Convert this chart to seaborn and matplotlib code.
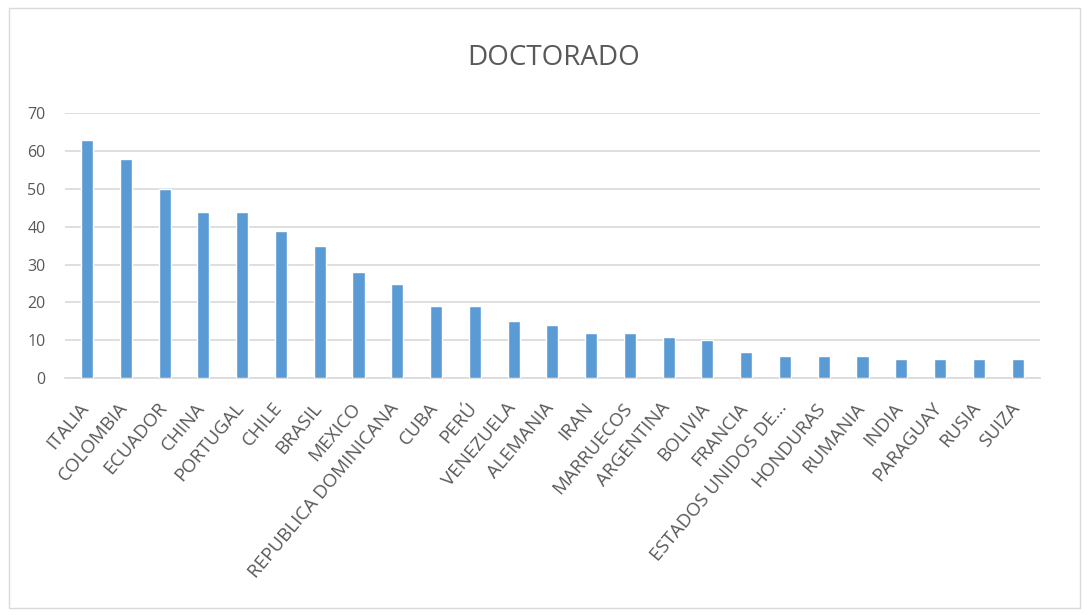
import matplotlib
matplotlib.use("Agg")
import matplotlib.pyplot as plt
import matplotlib.transforms as mtransforms
import seaborn as sns
import pandas as pd
from matplotlib.patches import Rectangle

countries = ["ITALIA", "COLOMBIA", "ECUADOR", "CHINA", "PORTUGAL", "CHILE", "BRASIL",
             "MEXICO", "REPUBLICA DOMINICANA", "CUBA", "PERÚ", "VENEZUELA", "ALEMANIA",
             "IRAN", "MARRUECOS", "ARGENTINA", "BOLIVIA", "FRANCIA", "ESTADOS UNIDOS DE...",
             "HONDURAS", "RUMANIA", "INDIA", "PARAGUAY", "RUSIA", "SUIZA"]
values = [63, 58, 50, 44, 44, 39, 35, 28, 25, 19, 19, 15, 14, 12, 12, 11, 10, 7, 6, 6, 6, 5, 5, 5, 5]
y_ticks = [0, 10, 20, 30, 40, 50, 60, 70]
title = "DOCTORADO"

sns.set_theme(style="white")
plt.rcParams['font.family'] = ['Open Sans', 'DejaVu Sans']

df = pd.DataFrame({"country": countries, "value": values})

fig = plt.figure(figsize=(10.89, 6.15), dpi=100)
ax = fig.add_axes([0.0597, 0.385, 0.895, 0.431])
sns.barplot(data=df, x="country", y="value", color="#5B9BD5", width=0.31,
            saturation=1, ax=ax, zorder=3)
ax.set_ylim(0, 70)
ax.set_xlim(-0.57, len(countries) - 1 + 0.57)
ax.set_yticks(y_ticks)
ax.yaxis.grid(True, color="#D9D9D9", linewidth=1.2, zorder=0)
ax.set_axisbelow(True)
for s in ["top", "right", "left"]:
    ax.spines[s].set_visible(False)
ax.spines["bottom"].set_color("#D9D9D9")
ax.spines["bottom"].set_linewidth(1.2)
ax.set_xlabel("")
ax.set_ylabel("")
ax.tick_params(axis="y", length=0, pad=14, labelsize=11.5, labelcolor="#595959")
ax.tick_params(axis="x", length=0, pad=15, labelsize=13.5, labelcolor="#595959")
offset = mtransforms.ScaledTranslation(-6 / 72, 0, fig.dpi_scale_trans)
for lab in ax.get_xticklabels():
    lab.set_rotation(50)
    lab.set_ha("right")
    lab.set_rotation_mode("anchor")
    lab.set_transform(lab.get_transform() + offset)

fig.text(0.508, 0.905, title, ha="center", va="center", fontsize=20, color="#595959")
fig.patches.append(Rectangle((0.008, 0.012), 0.984, 0.975, transform=fig.transFigure,
                             fill=False, edgecolor="#D9D9D9", linewidth=1))

fig.savefig("out.png", dpi=100)
